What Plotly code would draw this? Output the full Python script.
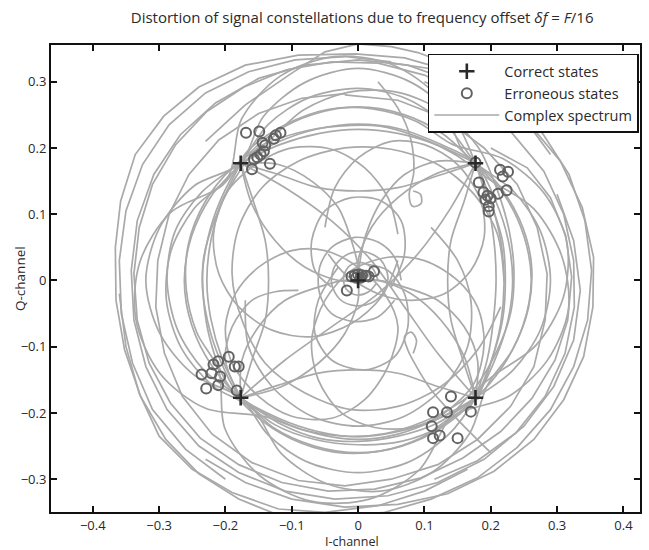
import plotly.graph_objects as go

# ---- constellation points -------------------------------------------------
correct_i = [-0.177, 0.177, -0.177, 0.177, 0.000]
correct_q = [0.177, 0.177, -0.177, -0.177, 0.000]

# erroneous decisions, grouped by the quadrant they drifted into
err_tl = [(-0.169, 0.223), (-0.149, 0.225), (-0.124, 0.219), (-0.117, 0.223), (-0.127, 0.214),
          (-0.144, 0.208), (-0.140, 0.204), (-0.142, 0.195), (-0.147, 0.190), (-0.152, 0.186),
          (-0.157, 0.183), (-0.160, 0.168), (-0.133, 0.176)]
err_tr = [(0.177, 0.178), (0.182, 0.148), (0.214, 0.167), (0.226, 0.164), (0.218, 0.157),
          (0.189, 0.133), (0.195, 0.128), (0.200, 0.124), (0.211, 0.131), (0.224, 0.136),
          (0.197, 0.112), (0.197, 0.104), (0.192, 0.122)]
err_bl = [(-0.195, -0.115), (-0.211, -0.122), (-0.218, -0.127), (-0.186, -0.130), (-0.180, -0.130),
          (-0.236, -0.142), (-0.221, -0.140), (-0.208, -0.145), (-0.229, -0.163), (-0.211, -0.158),
          (-0.183, -0.166)]
err_br = [(0.140, -0.175), (0.113, -0.199), (0.134, -0.199), (0.170, -0.198), (0.111, -0.220),
          (0.123, -0.234), (0.113, -0.238), (0.150, -0.238)]
err_c = [(-0.017, -0.015), (0.024, 0.014), (-0.010, 0.006), (-0.005, 0.008), (0.000, 0.009),
         (0.006, 0.008), (0.012, 0.007), (0.004, 0.004), (-0.003, 0.004), (0.016, 0.006)]

# ---- complex spectrum trajectory (I, Q) pieces ------------------------------
# wide excursions, drawn as the coarse sampled polygon they are
outer_loops = [
    [(-0.23, 0.21), (-0.17, 0.265), (-0.10, 0.313), (-0.05, 0.345), (0.00, 0.357), (0.05, 0.353),
     (0.09, 0.344), (0.16, 0.318), (0.225, 0.275), (0.278, 0.222), (0.318, 0.160), (0.342, 0.090),
     (0.352, 0.015), (0.346, -0.060), (0.325, -0.130), (0.290, -0.195), (0.240, -0.252),
     (0.180, -0.298), (0.110, -0.330), (0.040, -0.350), (-0.032, -0.357), (-0.113, -0.357),
     (-0.180, -0.330), (-0.240, -0.292), (-0.290, -0.240), (-0.328, -0.175), (-0.352, -0.105),
     (-0.365, -0.030), (-0.366, 0.050), (-0.358, 0.120), (-0.336, 0.190), (-0.293, 0.248),
     (-0.240, 0.292), (-0.170, 0.325), (-0.090, 0.340), (-0.004, 0.342), (0.07, 0.336),
     (0.14, 0.316), (0.20, 0.285), (0.25, 0.245), (0.29, 0.19)],
    [(0.20, 0.20), (0.255, 0.17), (0.29, 0.125), (0.313, 0.068), (0.322, 0.005), (0.316, -0.06),
     (0.297, -0.12), (0.262, -0.178), (0.215, -0.228), (0.158, -0.268), (0.095, -0.298),
     (0.025, -0.315), (-0.045, -0.318), (-0.115, -0.305), (-0.18, -0.278), (-0.238, -0.238),
     (-0.283, -0.185), (-0.315, -0.125), (-0.333, -0.06), (-0.338, 0.01), (-0.33, 0.08),
     (-0.31, 0.145), (-0.275, 0.205), (-0.228, 0.255), (-0.172, 0.292), (-0.108, 0.318),
     (-0.04, 0.33), (0.03, 0.328), (0.10, 0.31), (0.16, 0.28), (0.215, 0.24)],
    [(-0.02, 0.28), (0.06, 0.272), (0.13, 0.245), (0.19, 0.2), (0.24, 0.145), (0.27, 0.08),
     (0.285, 0.01), (0.282, -0.06), (0.265, -0.13), (0.23, -0.19), (0.18, -0.24), (0.12, -0.278),
     (0.05, -0.3), (-0.02, -0.31), (-0.09, -0.302), (-0.16, -0.275), (-0.22, -0.232),
     (-0.265, -0.175), (-0.292, -0.11), (-0.305, -0.04), (-0.302, 0.03), (-0.285, 0.1),
     (-0.255, 0.16), (-0.21, 0.212), (-0.15, 0.252), (-0.085, 0.275), (-0.02, 0.282)],
    [(0.04, 0.33), (0.12, 0.318), (0.19, 0.288), (0.255, 0.24), (0.305, 0.18), (0.338, 0.11),
     (0.355, 0.035), (0.354, -0.04), (0.34, -0.115), (0.31, -0.18), (0.265, -0.24),
     (0.205, -0.288), (0.135, -0.322), (0.06, -0.338), (-0.02, -0.342), (-0.10, -0.33),
     (-0.17, -0.305), (-0.23, -0.27)],
    [(-0.20, -0.30), (-0.26, -0.255), (-0.31, -0.195), (-0.34, -0.125), (-0.357, -0.05),
     (-0.36, 0.03), (-0.35, 0.105), (-0.325, 0.175), (-0.285, 0.235), (-0.23, 0.283),
     (-0.165, 0.315), (-0.095, 0.333), (-0.02, 0.338), (0.05, 0.33)],
    [(-0.36, -0.02), (-0.35, -0.10), (-0.33, -0.17), (-0.30, -0.235), (-0.25, -0.285),
     (-0.19, -0.32), (-0.12, -0.345), (-0.05, -0.35), (0.03, -0.34), (0.10, -0.318),
     (0.165, -0.285)],
    [(0.30, 0.13), (0.325, 0.06), (0.335, -0.015), (0.325, -0.09), (0.295, -0.16), (0.25, -0.22),
     (0.19, -0.27), (0.12, -0.305), (0.045, -0.325), (-0.035, -0.33), (-0.11, -0.318),
     (-0.18, -0.29), (-0.24, -0.25), (-0.288, -0.195), (-0.32, -0.13), (-0.338, -0.06),
     (-0.342, 0.015), (-0.333, 0.09), (-0.308, 0.16), (-0.268, 0.22), (-0.215, 0.268),
     (-0.15, 0.305), (-0.08, 0.325), (0.0, 0.333), (0.075, 0.325), (0.145, 0.3), (0.205, 0.26)],
    [(0.10, 0.30), (0.17, 0.27), (0.23, 0.225), (0.28, 0.165), (0.31, 0.10), (0.325, 0.03),
     (0.326, -0.04), (0.312, -0.11), (0.282, -0.175), (0.238, -0.23), (0.18, -0.272),
     (0.115, -0.30)],
]

# symbol-to-symbol transitions around the ring of states
ring_paths = [
    [(-0.177, 0.177), (-0.118, 0.210), (-0.060, 0.229), (0.0, 0.236), (0.062, 0.229), (0.121, 0.207),
     (0.177, 0.177), (0.207, 0.121), (0.226, 0.062), (0.233, 0.0), (0.226, -0.060), (0.207, -0.118),
     (0.177, -0.177), (0.126, -0.222), (0.066, -0.250), (0.0, -0.260), (-0.066, -0.250),
     (-0.128, -0.222), (-0.177, -0.177), (-0.232, -0.136), (-0.272, -0.075), (-0.288, 0.0),
     (-0.276, 0.074), (-0.236, 0.133), (-0.177, 0.177)],
    [(-0.177, 0.177), (-0.135, 0.236), (-0.074, 0.276), (0.0, 0.290), (0.074, 0.274), (0.135, 0.232),
     (0.177, 0.177), (0.221, 0.128), (0.250, 0.067), (0.261, 0.0), (0.249, -0.067), (0.219, -0.128),
     (0.177, -0.177), (0.120, -0.209), (0.061, -0.228), (0.0, -0.236), (-0.061, -0.228),
     (-0.120, -0.208), (-0.177, -0.177), (-0.221, -0.128), (-0.251, -0.067), (-0.262, 0.0),
     (-0.251, 0.067), (-0.221, 0.128), (-0.177, 0.177)],
    [(-0.177, 0.177), (-0.128, 0.222), (-0.067, 0.251), (0.0, 0.262), (0.067, 0.251), (0.128, 0.221),
     (0.177, 0.177), (0.234, 0.135), (0.275, 0.074), (0.290, 0.0), (0.275, -0.074), (0.234, -0.135),
     (0.177, -0.177), (0.118, -0.210), (0.060, -0.232), (0.0, -0.240), (-0.060, -0.232),
     (-0.119, -0.211), (-0.177, -0.177), (-0.208, -0.120), (-0.227, -0.061), (-0.235, 0.0),
     (-0.227, 0.061), (-0.208, 0.120), (-0.177, 0.177)],
    [(-0.177, 0.177), (-0.143, 0.247), (-0.080, 0.299), (0.0, 0.320), (0.080, 0.299), (0.143, 0.247),
     (0.177, 0.177), (0.200, 0.118), (0.218, 0.058), (0.222, 0.0), (0.218, -0.058), (0.202, -0.118),
     (0.177, -0.177), (0.135, -0.234), (0.074, -0.275), (0.0, -0.290), (-0.074, -0.275),
     (-0.135, -0.234), (-0.177, -0.177), (-0.247, -0.143), (-0.299, -0.080), (-0.320, 0.0),
     (-0.299, 0.080), (-0.247, 0.143), (-0.177, 0.177)],
    [(-0.151, 0.200), (-0.090, 0.223), (-0.029, 0.233), (0.033, 0.233), (0.092, 0.216), (0.148, 0.189),
     (0.200, 0.151), (0.265, 0.108), (0.307, 0.037), (0.317, -0.044), (0.285, -0.121), (0.225, -0.176),
     (0.151, -0.200), (0.096, -0.237), (0.031, -0.258), (-0.036, -0.259), (-0.101, -0.239),
     (-0.158, -0.201), (-0.200, -0.151), (-0.223, -0.090), (-0.233, -0.029), (-0.233, 0.033),
     (-0.216, 0.092), (-0.189, 0.148), (-0.151, 0.200)],
    [(-0.195, 0.158), (-0.176, 0.243), (-0.118, 0.308), (-0.036, 0.338), (0.051, 0.326), (0.122, 0.275),
     (0.158, 0.195), (0.207, 0.150), (0.243, 0.093), (0.261, 0.028), (0.257, -0.041), (0.233, -0.104),
     (0.195, -0.158), (0.168, -0.231), (0.111, -0.290), (0.034, -0.318), (-0.049, -0.306),
     (-0.116, -0.261), (-0.158, -0.195), (-0.219, -0.159), (-0.266, -0.103), (-0.289, -0.030),
     (-0.282, 0.045), (-0.247, 0.109), (-0.195, 0.158)],
    [(-0.205, 0.143), (-0.165, 0.197), (-0.110, 0.235), (-0.046, 0.258), (0.022, 0.259), (0.088, 0.240),
     (0.143, 0.205), (0.218, 0.184), (0.281, 0.131), (0.315, 0.056), (0.309, -0.027), (0.268, -0.098),
     (0.205, -0.143), (0.154, -0.184), (0.099, -0.213), (0.041, -0.231), (-0.021, -0.235),
     (-0.082, -0.226), (-0.143, -0.205), (-0.230, -0.193), (-0.299, -0.140), (-0.335, -0.059),
     (-0.329, 0.028), (-0.282, 0.103), (-0.205, 0.143)],
    [(-0.136, 0.210), (-0.083, 0.257), (-0.015, 0.284), (0.060, 0.284), (0.129, 0.254), (0.181, 0.201),
     (0.210, 0.136), (0.228, 0.074), (0.235, 0.013), (0.230, -0.049), (0.209, -0.107), (0.178, -0.160),
     (0.136, -0.210), (0.093, -0.285), (0.017, -0.330), (-0.071, -0.333), (-0.149, -0.294),
     (-0.201, -0.223), (-0.210, -0.136), (-0.243, -0.079), (-0.259, -0.014), (-0.256, 0.054),
     (-0.231, 0.118), (-0.189, 0.171), (-0.136, 0.210)],
]

single_legs = [
    [(0.177, 0.177), (0.195, 0.118), (0.205, 0.058), (0.208, 0.0), (0.204, -0.06), (0.195, -0.118), (0.177, -0.177)],
    [(0.18, 0.175), (0.20, 0.12), (0.215, 0.06), (0.22, -0.005), (0.215, -0.065), (0.2, -0.125), (0.18, -0.18)],
    [(0.177, -0.177), (0.12, -0.215), (0.06, -0.235), (0.0, -0.243), (-0.06, -0.238), (-0.12, -0.215), (-0.177, -0.177)],
    [(0.177, -0.177), (0.125, -0.22), (0.065, -0.243), (0.0, -0.248), (-0.065, -0.24), (-0.125, -0.218), (-0.177, -0.177)],
    [(-0.177, -0.177), (-0.205, -0.118), (-0.222, -0.058), (-0.228, 0.0), (-0.222, 0.06), (-0.205, 0.118), (-0.177, 0.177)],
    [(-0.177, 0.177), (-0.118, 0.205), (-0.058, 0.222), (0.0, 0.228), (0.06, 0.222), (0.118, 0.205), (0.177, 0.177)],
    [(-0.177, 0.177), (-0.12, 0.16), (-0.06, 0.14), (0.0, 0.135), (0.06, 0.14), (0.12, 0.158), (0.177, 0.177)],
    [(0.177, 0.177), (0.16, 0.12), (0.14, 0.06), (0.135, 0.0), (0.14, -0.06), (0.158, -0.12), (0.177, -0.177)],
    [(0.177, -0.177), (0.12, -0.16), (0.06, -0.14), (0.0, -0.135), (-0.06, -0.14), (-0.12, -0.158), (-0.177, -0.177)],
    [(-0.177, -0.177), (-0.16, -0.12), (-0.14, -0.06), (-0.135, 0.0), (-0.14, 0.06), (-0.158, 0.12), (-0.177, 0.177)],
    [(-0.177, 0.177), (-0.11, 0.14), (-0.04, 0.09), (0.02, 0.03), (0.07, -0.04), (0.12, -0.11), (0.177, -0.177)],
    [(0.177, 0.177), (0.14, 0.11), (0.09, 0.04), (0.03, -0.02), (-0.04, -0.07), (-0.11, -0.12), (-0.177, -0.177)],
]

spokes = [
    [(-0.177, 0.177), (-0.12, 0.175), (-0.07, 0.15), (-0.03, 0.11), (-0.01, 0.06), (0.0, 0.02), (0.0, 0.0)],
    [(0.0, 0.0), (0.0, 0.03), (0.02, 0.08), (0.06, 0.125), (0.115, 0.16), (0.177, 0.177)],
    [(0.0, 0.0), (0.03, 0.0), (0.08, -0.02), (0.125, -0.06), (0.16, -0.115), (0.177, -0.177)],
    [(0.0, 0.0), (0.0, -0.03), (-0.02, -0.08), (-0.06, -0.125), (-0.115, -0.16), (-0.177, -0.177)],
    [(-0.177, -0.177), (-0.175, -0.12), (-0.15, -0.07), (-0.11, -0.03), (-0.06, -0.01), (-0.02, 0.0), (0.0, 0.0)],
    [(0.177, 0.177), (0.12, 0.18), (0.07, 0.16), (0.035, 0.12), (0.012, 0.07), (0.003, 0.03), (0.0, 0.0)],
    [(0.177, -0.177), (0.18, -0.12), (0.16, -0.07), (0.12, -0.03), (0.07, -0.01), (0.03, 0.0), (0.0, 0.0)],
    [(0.0, 0.0), (-0.03, 0.0), (-0.08, 0.02), (-0.125, 0.06), (-0.16, 0.115), (-0.177, 0.177)],
]

inner_loops = [
    [(-0.05, 0.08), (-0.035, 0.14), (0.0, 0.185), (0.05, 0.21), (0.1, 0.205), (0.15, 0.175), (0.185, 0.12),
     (0.19, 0.065), (0.17, 0.015), (0.13, -0.02), (0.08, -0.03), (0.03, -0.02), (-0.02, 0.01), (-0.045, 0.04)],
    [(0.06, -0.07), (0.045, -0.13), (0.01, -0.18), (-0.04, -0.208), (-0.1, -0.205), (-0.15, -0.175),
     (-0.19, -0.125), (-0.2, -0.07), (-0.185, -0.02), (-0.15, 0.02), (-0.1, 0.045), (-0.05, 0.045),
     (0.0, 0.02), (0.04, -0.02), (0.06, -0.07)],
    [(0.06, 0.07), (0.045, 0.125), (0.01, 0.17), (-0.04, 0.198), (-0.1, 0.2), (-0.155, 0.175), (-0.2, 0.13),
     (-0.218, 0.07), (-0.21, 0.01), (-0.18, -0.04), (-0.13, -0.075), (-0.07, -0.085), (-0.01, -0.065),
     (0.035, -0.025), (0.06, 0.03)],
    [(-0.07, -0.09), (-0.06, -0.15), (-0.025, -0.2), (0.025, -0.222), (0.08, -0.222), (0.13, -0.2),
     (0.175, -0.155), (0.19, -0.095), (0.18, -0.04), (0.15, 0.0), (0.1, 0.03), (0.045, 0.035),
     (-0.01, 0.015), (-0.05, -0.03), (-0.07, -0.09)],
    [(0.22, 0.0), (0.21, 0.07), (0.175, 0.13), (0.12, 0.175), (0.05, 0.198), (-0.02, 0.2), (-0.09, 0.18),
     (-0.145, 0.14), (-0.18, 0.08), (-0.19, 0.01), (-0.175, -0.06), (-0.14, -0.125), (-0.08, -0.17),
     (-0.01, -0.195), (0.06, -0.19), (0.125, -0.16), (0.18, -0.105), (0.215, -0.04)],
    [(-0.17, -0.03), (-0.165, -0.1), (-0.13, -0.16), (-0.07, -0.205), (0.0, -0.22), (0.07, -0.205),
     (0.13, -0.16), (0.165, -0.1), (0.17, -0.03), (0.15, 0.03), (0.11, 0.08)],
]

hooks = [
    [(0.03, 0.30), (0.06, 0.26), (0.079, 0.215), (0.084, 0.164), (0.077, 0.129), (0.082, 0.112),
     (0.095, 0.116), (0.094, 0.13), (0.083, 0.135)],
    [(0.20, -0.26), (0.15, -0.21), (0.11, -0.165), (0.088, -0.13), (0.075, -0.105), (0.07, -0.085),
     (0.08, -0.078), (0.088, -0.09), (0.083, -0.11)],
    [(-0.09, -0.015), (-0.125, -0.017), (-0.16, -0.03), (-0.19, -0.07), (-0.2, -0.12), (-0.177, -0.177)],
]

center_loops = [
    [(0.03, 0.0), (0.022, 0.018), (0.005, 0.027), (-0.013, 0.022), (-0.022, 0.005), (-0.018, -0.013),
     (-0.002, -0.022), (0.016, -0.017), (0.028, -0.004)],
    [(0.045, 0.005), (0.035, 0.03), (0.012, 0.043), (-0.015, 0.04), (-0.035, 0.022), (-0.04, -0.004),
     (-0.028, -0.028), (-0.005, -0.038), (0.02, -0.034), (0.038, -0.018), (0.045, 0.005)],
    [(0.065, 0.0), (0.055, 0.035), (0.03, 0.058), (-0.005, 0.065), (-0.04, 0.05), (-0.058, 0.02),
     (-0.058, -0.02), (-0.04, -0.05), (-0.005, -0.062), (0.03, -0.055), (0.055, -0.03)],
    [(-0.03, 0.02), (-0.06, -0.03), (-0.065, -0.08), (-0.04, -0.12), (0.01, -0.135), (0.055, -0.115),
     (0.075, -0.07), (0.07, -0.02), (0.045, 0.015), (0.01, 0.025)],
    [(0.05, -0.01), (0.07, 0.04), (0.065, 0.09), (0.035, 0.12), (-0.01, 0.125), (-0.05, 0.105),
     (-0.07, 0.06), (-0.065, 0.015), (-0.04, -0.01)],
]


def join_paths(*groups):
    """Chain path pieces into one I/Q pair of lists, broken by None."""
    xs, ys = [], []
    for group in groups:
        for path in group:
            for i_val, q_val in path:
                xs.append(i_val)
                ys.append(q_val)
            xs.append(None)
            ys.append(None)
    return xs, ys


outer_i, outer_q = join_paths(outer_loops)
inner_i, inner_q = join_paths(ring_paths, single_legs, spokes, inner_loops, hooks, center_loops)
err_pts = err_tl + err_tr + err_bl + err_br + err_c
err_i = [p[0] for p in err_pts]
err_q = [p[1] for p in err_pts]

FONT = "Open Sans, Lato, sans-serif"
LINE_GRAY = "#a9a9a9"
TEXT = "#2a2a2a"

fig = go.Figure()
fig.add_trace(go.Scatter(
    x=outer_i, y=outer_q, mode="lines", name="Complex spectrum",
    line=dict(color=LINE_GRAY, width=1.7), legendrank=3, hoverinfo="skip",
))
fig.add_trace(go.Scatter(
    x=inner_i, y=inner_q, mode="lines", name="Complex spectrum", showlegend=False,
    line=dict(color=LINE_GRAY, width=1.7, shape="spline", smoothing=0.9), hoverinfo="skip",
))
fig.add_trace(go.Scatter(
    x=err_i, y=err_q, mode="markers", name="Erroneous states",
    marker=dict(symbol="circle-open", size=10, color="#626262", line=dict(width=2, color="#626262")),
    legendrank=2,
))
fig.add_trace(go.Scatter(
    x=correct_i, y=correct_q, mode="markers", name="Correct states",
    marker=dict(symbol="cross-thin", size=11, color="#2a2a2a", line=dict(width=2.6, color="#2a2a2a")),
    legendrank=1,
))

axis_common = dict(
    showline=True, linecolor="#111111", linewidth=2, mirror="ticks",
    ticks="inside", ticklen=6, tickwidth=2, tickcolor="#111111",
    showgrid=False, zeroline=False, automargin=False,
    tickfont=dict(family=FONT, size=13, color=TEXT),
)

fig.update_layout(
    width=649, height=550,
    margin=dict(l=51, r=9, t=45, b=38),
    paper_bgcolor="white", plot_bgcolor="white",
    title=dict(
        text="Distortion of signal constellations due to frequency offset <i>δf</i> = <i>F</i>/16",
        x=0.558, xanchor="center", y=0.967, yanchor="middle",
        font=dict(family=FONT, size=15, color=TEXT),
    ),
    xaxis=dict(range=[-0.463, 0.425], tickvals=[-0.4, -0.3, -0.2, -0.1, 0, 0.1, 0.2, 0.3, 0.4],
               ticktext=["−0.4", "−0.3", "−0.2", "−0.1", "0", "0.1", "0.2", "0.3", "0.4"],
               **axis_common),
    yaxis=dict(range=[-0.3495, 0.3554], tickvals=[-0.3, -0.2, -0.1, 0, 0.1, 0.2, 0.3],
               ticktext=["−0.3", "−0.2", "−0.1", "0", "0.1", "0.2", "0.3"],
               **axis_common),
    annotations=[
        dict(text="I-channel", xref="paper", yref="paper", x=0.511, y=-0.0642,
             xanchor="center", yanchor="middle", showarrow=False, borderpad=0,
             font=dict(family=FONT, size=12.5, color=TEXT)),
        dict(text="Q-channel", xref="paper", yref="paper", x=-0.0526, y=0.499, textangle=-90,
             xanchor="center", yanchor="middle", showarrow=False,
             font=dict(family=FONT, size=13.5, color=TEXT)),
    ],
    legend=dict(
        x=0.998, y=0.981, xanchor="right", yanchor="top",
        bgcolor="white", bordercolor="#111111", borderwidth=1.5,
        font=dict(family=FONT, size=14.5, color=TEXT),
        itemwidth=65, tracegroupgap=0,
    ),
    showlegend=True,
)

fig.write_html("out.html")
